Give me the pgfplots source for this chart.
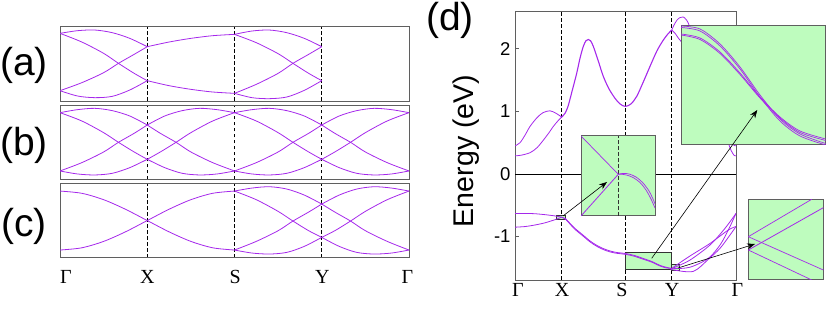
\documentclass[border=0pt]{standalone}
\usepackage{pgfplots}
\pgfplotsset{compat=1.18}
\usepackage{fontspec}
\setmainfont{Liberation Sans}
\newfontfamily\serifk{Liberation Serif}
\usetikzlibrary{arrows.meta}
\definecolor{band}{RGB}{165,40,235}
\definecolor{lgreen}{RGB}{190,252,190}
\definecolor{frame}{RGB}{95,95,95}
\pgfplotsset{
 cycle list={{band, solid, line width=0.8pt, smooth, mark=none}},
 leftpanel/.style={
  at={(60pt,#1)}, anchor=south west, scale only axis, width=349pt, height=74.3pt,
  xmin=0,xmax=4,ymin=0,ymax=223, xtick={1,2,3}, xticklabels={}, ytick=\empty,
  xmajorgrids, grid style={black, line width=0.6pt, dash pattern=on 3.5pt off 2.5pt},
  major tick length=0pt, tick style={draw=none}, axis line style={frame, line width=0.9pt},
  every axis plot/.append style={band, line width=0.8pt, smooth, no marks}},
 inset/.style={anchor=south west, scale only axis, ticks=none,
  axis background/.style={fill=lgreen}, axis line style={frame, line width=1pt},
  every axis plot/.append style={band, line width=0.7pt, no marks}},
}
\begin{document}
\begin{tikzpicture}
\path[use as bounding box] (0,0) rectangle (830pt,310pt);
% ---------- (a) ----------
\begin{axis}[leftpanel=209pt]
\addplot coordinates {(0,203)(0.2,211)(0.4,213)(0.6,205)(0.8,188)(1,163)};
\addplot coordinates {(0,203)(0.25,177)(0.5,143)(0.67,113)(0.85,83)(1,61)};
\addplot coordinates {(0,31)(0.25,55)(0.5,85)(0.67,113)(0.85,140)(1,163)};
\addplot coordinates {(0,31)(0.2,15)(0.4,10)(0.6,14)(0.8,33)(1,61)};
\addplot coordinates {(1,163)(1.25,177)(1.5,188)(1.75,196)(2,200)};
\addplot coordinates {(1,61)(1.25,46)(1.5,35)(1.75,27)(2,23)};
\addplot coordinates {(2,200)(2.2,210)(2.4,213)(2.6,205)(2.8,188)(3,163)};
\addplot coordinates {(2,200)(2.25,175)(2.5,142)(2.67,113)(2.85,83)(3,61)};
\addplot coordinates {(2,23)(2.25,50)(2.5,83)(2.67,113)(2.85,140)(3,163)};
\addplot coordinates {(2,23)(2.2,10)(2.4,7)(2.6,12)(2.8,32)(3,61)};
\end{axis}
% ---------- (b) ----------
\begin{axis}[leftpanel=130.7pt]
\addplot coordinates {(0,200)(0.2,209)(0.4,213)(0.6,206)(0.8,190)(1,163)};
\addplot coordinates {(0,200)(0.25,175)(0.5,140)(0.67,111)(0.85,82)(1,60)};
\addplot coordinates {(0,25)(0.25,50)(0.5,82)(0.67,111)(0.85,138)(1,163)};
\addplot coordinates {(0,25)(0.2,16)(0.4,13)(0.6,18)(0.8,35)(1,60)};
\addplot coordinates {(2,200)(1.8,209)(1.6,213)(1.4,206)(1.2,190)(1,163)};
\addplot coordinates {(2,200)(1.75,175)(1.5,140)(1.33,111)(1.15,82)(1,60)};
\addplot coordinates {(2,25)(1.75,50)(1.5,82)(1.33,111)(1.15,138)(1,163)};
\addplot coordinates {(2,25)(1.8,16)(1.6,13)(1.4,18)(1.2,35)(1,60)};
\addplot coordinates {(2,200)(2.2,209)(2.4,213)(2.6,206)(2.8,190)(3,163)};
\addplot coordinates {(2,200)(2.25,175)(2.5,140)(2.67,111)(2.85,82)(3,60)};
\addplot coordinates {(2,25)(2.25,50)(2.5,82)(2.67,111)(2.85,138)(3,163)};
\addplot coordinates {(2,25)(2.2,16)(2.4,13)(2.6,18)(2.8,35)(3,60)};
\addplot coordinates {(4,200)(3.8,209)(3.6,213)(3.4,206)(3.2,190)(3,163)};
\addplot coordinates {(4,200)(3.75,175)(3.5,140)(3.33,111)(3.15,82)(3,60)};
\addplot coordinates {(4,25)(3.75,50)(3.5,82)(3.33,111)(3.15,138)(3,163)};
\addplot coordinates {(4,25)(3.8,16)(3.6,13)(3.4,18)(3.2,35)(3,60)};
\end{axis}
% ---------- (c) ----------
\begin{axis}[leftpanel=52.3pt]
\addplot coordinates {(0,200)(0.25,193.3)(0.5,174.1)(0.75,145.4)(1,111.5)(1.25,77.6)(1.5,48.9)(1.75,29.7)(2,23)};
\addplot coordinates {(0,23)(0.25,29.7)(0.5,48.9)(0.75,77.6)(1,111.5)(1.25,145.4)(1.5,174.1)(1.75,193.3)(2,200)};
\addplot coordinates {(2,200)(2.2,209)(2.4,213)(2.6,206)(2.8,188)(3,161)};
\addplot coordinates {(2,200)(2.25,174)(2.5,139)(2.67,110)(2.85,81)(3,61)};
\addplot coordinates {(2,23)(2.25,49)(2.5,81)(2.67,110)(2.85,137)(3,161)};
\addplot coordinates {(2,23)(2.2,14)(2.4,11)(2.6,16)(2.8,34)(3,61)};
\addplot coordinates {(4,200)(3.8,209)(3.6,213)(3.4,206)(3.2,188)(3,161)};
\addplot coordinates {(4,200)(3.75,174)(3.5,139)(3.33,110)(3.15,81)(3,61)};
\addplot coordinates {(4,23)(3.75,49)(3.5,81)(3.33,110)(3.15,137)(3,161)};
\addplot coordinates {(4,23)(3.8,14)(3.6,11)(3.4,16)(3.2,34)(3,61)};
\end{axis}
% ---------- (d) main ----------
\begin{axis}[at={(515pt,30pt)}, anchor=south west, scale only axis, width=221pt, height=269pt,
  xmin=0, xmax=221, ymin=-1.694, ymax=2.605,
  xtick={46.7,110.3,156.7}, xticklabels={}, xmajorgrids,
  grid style={black, line width=0.6pt, dash pattern=on 3.5pt off 2.5pt},
  ytick={-1,0,1,2}, yticklabels={-1,0,1,2}, ytick pos=left, tick align=inside,
  major tick length=4pt, tick style={frame, line width=0.8pt}, xtick style={draw=none},
  yticklabel style={font=\fontsize{18.5}{20}\selectfont, xshift=-1pt},
  axis line style={frame, line width=0.9pt},
  every axis plot/.append style={band, line width=0.8pt, smooth, no marks}]
\addplot[black, line width=0.8pt, sharp plot] coordinates {(0,0)(221,0)};
\addplot[fill=lgreen, draw=black!80, line width=0.7pt, sharp plot] coordinates {(110.3,-1.251)(156.7,-1.251)(156.7,-1.518)(110.3,-1.518)} --cycle;
\addplot[fill=lgreen, draw=black!80, line width=0.6pt, sharp plot] coordinates {(41.7,-0.655)(50,-0.655)(50,-0.719)(41.7,-0.719)} --cycle;
\addplot[fill=lgreen, draw=black!80, line width=0.6pt, sharp plot] coordinates {(156.7,-1.443)(164,-1.443)(164,-1.534)(156.7,-1.534)} --cycle;
% conduction band
\addplot coordinates {(0,0.45)(5,0.50)(10,0.62)(15,0.76)(22,0.90)(28,0.98)(35,1.01)(41,0.97)(46.7,0.91)};
\addplot coordinates {(0,0.29)(6,0.30)(15,0.34)(22,0.42)(28.3,0.54)(34,0.66)(38.3,0.76)(43,0.85)(46.7,0.91)};
\addplot[line width=1.1pt] coordinates {(46.7,0.91)(50,0.97)(53,1.08)(57,1.32)(61.7,1.61)(65,1.85)(68.3,2.04)(71,2.13)(73.3,2.15)(75.5,2.13)(78.3,2.04)(83,1.82)(88.3,1.56)(94,1.36)(100,1.21)(105,1.12)(110.3,1.08)(116,1.12)(121.7,1.24)(128,1.46)(135,1.72)(142,1.97)(148.3,2.14)(153,2.24)(156.7,2.30)};
\addplot coordinates {(156.7,2.30)(159,2.38)(162,2.46)(165,2.50)(168.3,2.51)(171,2.47)(173.3,2.41)(178,2.2)(185,1.85)(195,1.35)(205,0.95)(210,0.8)(215,0.6)(218,0.47)(221,0.45)};
\addplot coordinates {(156.7,2.30)(160,2.25)(163,2.18)(166,2.12)(170,2.05)(178,1.85)(188,1.5)(198,1.1)(206,0.8)(212,0.55)(216,0.38)(219,0.30)(221,0.29)};
% valence band
\addplot coordinates {(0,-0.63)(10,-0.63)(20,-0.635)(30,-0.65)(40,-0.67)(46.7,-0.69)};
\addplot coordinates {(0,-0.85)(10,-0.84)(20,-0.815)(30,-0.78)(40,-0.73)(46.7,-0.69)};
\addplot coordinates {(46.7,-0.69)(51,-0.72)(55,-0.79)(60,-0.87)(68.3,-0.98)(75,-1.07)(81.7,-1.14)(88,-1.19)(95,-1.23)(102,-1.255)(110.3,-1.27)(119,-1.30)(128.3,-1.35)(137,-1.40)(145,-1.46)(151,-1.49)(156.7,-1.51)};
\addplot coordinates {(46.7,-0.69)(51,-0.73)(55,-0.80)(60,-0.885)(68.3,-0.995)(75,-1.085)(81.7,-1.155)(88,-1.205)(95,-1.245)(102,-1.268)(110.3,-1.283)(119,-1.313)(128.3,-1.362)(137,-1.41)(145,-1.47)(151,-1.50)(156.7,-1.51)};
\addplot coordinates {(156.7,-1.51)(158.3,-1.49)(175,-1.31)(195,-1.11)(213.3,-0.895)(221,-0.84)};
\addplot coordinates {(156.7,-1.51)(158.3,-1.513)(175,-1.49)(193.3,-1.348)(205,-1.135)(213.3,-0.895)(221,-0.63)};
\addplot coordinates {(156.7,-1.52)(158.3,-1.534)(178.3,-1.556)(193.3,-1.364)(205,-1.188)(215,-0.975)(221,-0.84)};
\addplot coordinates {(156.7,-1.51)(158.3,-1.502)(175,-1.375)(195,-1.135)(210,-0.868)(221,-0.63)};
\end{axis}
% ---------- inset 1 ----------
\begin{axis}[inset, at={(581pt,94pt)}, width=74pt, height=80pt, xmin=581, xmax=655, ymin=94, ymax=174]
\addplot[black!80, line width=0.6pt, dash pattern=on 3.5pt off 2.5pt] coordinates {(618.3,94)(618.3,174)};
\addplot coordinates {(581,174)(618.3,135.7)};
\addplot coordinates {(581,94)(618.3,135.7)};
\addplot[smooth] coordinates {(618.3,135.7)(622,135.7)(627,134.8)(633,132.5)(640,127.5)(646,120)(651,111)(655,102)};
\addplot[smooth] coordinates {(618.3,135.7)(623,136.6)(629,136)(636,133)(643,127)(649,119)(653,111)(655,106)};
\end{axis}
% ---------- inset 2 ----------
\begin{axis}[inset, at={(681pt,165pt)}, width=144.7pt, height=119.3pt, xmin=681, xmax=825.7, ymin=165, ymax=284.3]
\addplot[smooth] coordinates {(681,284)(700,281)(720,266)(740,243)(760,215)(780,191)(800,176)(825.7,166.5)};
\addplot[smooth] coordinates {(681,282.5)(700,279)(720,264)(740,241)(760,213)(780,189)(800,174)(825.7,165)};
\addplot[smooth] coordinates {(681,276)(700,272)(720,258)(740,237)(760,213)(780,193)(800,179)(825.7,171)};
\addplot[smooth] coordinates {(681,275)(700,270.5)(720,256.5)(740,235.5)(760,212)(780,192)(800,177.5)(825.7,169.5)};
\end{axis}
% ---------- inset 3 ----------
\begin{axis}[inset, at={(748.3pt,30pt)}, width=75pt, height=80.7pt, xmin=748.3, xmax=823.3, ymin=30, ymax=110.7]
\addplot coordinates {(748.3,73.3)(811.7,110.7)};
\addplot coordinates {(748.3,73.3)(823.3,40)};
\addplot coordinates {(748.3,60)(823.3,102.3)};
\addplot coordinates {(748.3,60)(811.7,30)};
\end{axis}
% ---------- arrows ----------
\draw[black, line width=0.6pt, -{Stealth[length=8pt,width=6pt]}] (563pt,94pt) -- (607pt,128pt);
\draw[black, line width=0.6pt, -{Stealth[length=8pt,width=6pt]}] (651.7pt,51.7pt) -- (757.3pt,200pt);
\draw[black, line width=0.6pt, -{Stealth[length=8pt,width=6pt]}] (678pt,42pt) -- (755pt,66pt);
% ---------- labels ----------
\node[anchor=base, font=\fontsize{39}{40}\selectfont] at (24pt,234.7pt) {(a)};
\node[anchor=base, font=\fontsize{39}{40}\selectfont] at (24pt,154.7pt) {(b)};
\node[anchor=base, font=\fontsize{39}{40}\selectfont] at (24pt,73pt) {(c)};
\node[anchor=base, font=\fontsize{39}{40}\selectfont] at (450pt,279.7pt) {(d)};
\node[rotate=90, anchor=base, font=\fontsize{28.5}{30}\selectfont] at (473.3pt,159pt) {Energy (eV)};
\begin{scope}[every node/.style={anchor=base, font=\serifk\fontsize{20}{22}\selectfont}]
\node at (66pt,26.7pt) {Γ};
\node at (147.3pt,26.7pt) {X};
\node at (235.3pt,26.7pt) {S};
\node at (322.3pt,26.7pt) {Y};
\node at (407.5pt,26.7pt) {Γ};
\node at (518pt,13.3pt) {Γ};
\node at (562pt,13.3pt) {X};
\node at (622pt,13.3pt) {S};
\node at (672pt,13.3pt) {Y};
\node at (737.5pt,13.3pt) {Γ};
\end{scope}
\end{tikzpicture}
\end{document}
